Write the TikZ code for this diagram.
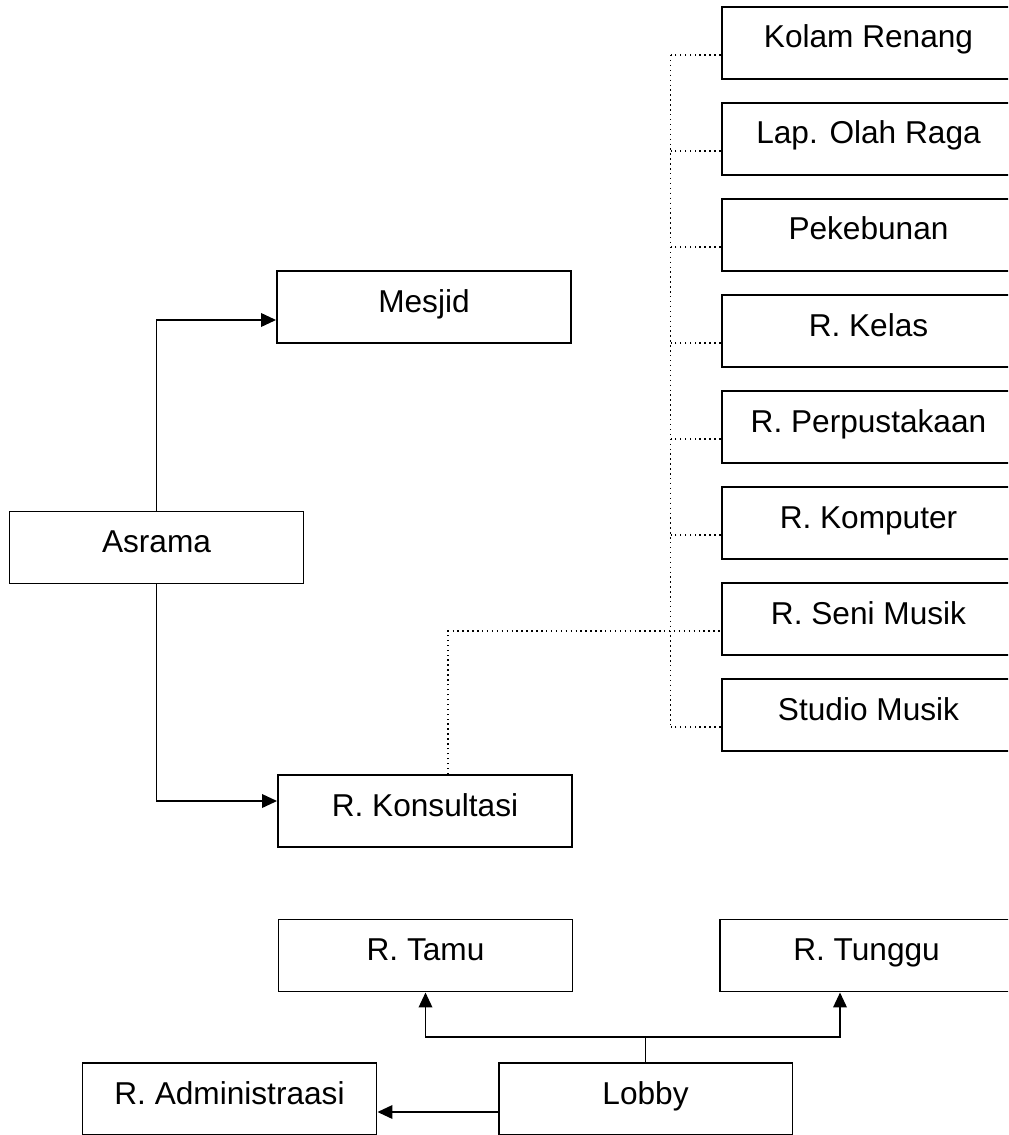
\documentclass[tikz,border=0pt]{standalone}
\usepackage{fontspec}
\setmainfont{Liberation Sans}
\usetikzlibrary{arrows.meta}

\tikzset{
    room/.style={draw, line width=1.1pt, minimum width=5.88cm, minimum height=1.44cm,
        text height=0.5cm, text depth=0.3cm, inner sep=0pt,
        font=\fontsize{18}{20}\selectfont},
    arr/.style={line width=1.1pt, -{Triangle[length=0.3cm,width=0.27cm]}},
    link/.style={line width=0.8pt},
    dotline/.style={dotted, line width=0.8pt}
}

\begin{document}
\begin{tikzpicture}[x=0.02cm, y=-0.02cm]
    \useasboundingbox (0,0) rectangle (1008,1135);
    \clip (0,0) rectangle (1008,1135);

    % Rooms, left side
    \node[room] (mesjid) at (424,307) {Mesjid};
    \node[room] (asrama) at (156.5,547.5) {Asrama};
    \node[room] (konsul) at (425,811) {R. Konsultasi};

    % Rooms, right column
    \node[room] (kolam) at (868.5,43) {Kolam Renang};
    \node[room] (lapor) at (868.5,139) {Lap. Olah Raga};
    \node[room] (kebun) at (868.5,235) {Pekebunan};
    \node[room] (kelas) at (868.5,331) {R. Kelas};
    \node[room] (pustaka) at (868.5,427) {R. Perpustakaan};
    \node[room] (komp) at (868.5,523) {R. Komputer};
    \node[room] (seni) at (868.5,619) {R. Seni Musik};
    \node[room] (studio) at (868.5,715) {Studio Musik};

    % Rooms, bottom
    \node[room] (tamu) at (425.5,955.5) {R. Tamu};
    \node[room] (tunggu) at (866.5,955.5) {R. Tunggu};
    \node[room] (admin) at (229.5,1099) {R. Administraasi};
    \node[room] (lobby) at (645.5,1099) {Lobby};

    % Asrama links
    \draw[arr] (asrama.north) |- ([yshift=-0.26cm]mesjid.west);
    \draw[arr] (asrama.south) |- ([yshift=0.2cm]konsul.west);

    % Dotted bus to right column
    \draw[dotline] ([shift={(-1cm,-0.24cm)}]kolam.west) -- ([shift={(-1cm,-0.24cm)}]studio.west);
    \draw[dotline] ([yshift=-0.24cm]kolam.west) -- +(-1cm,0);
    \draw[dotline] ([yshift=-0.24cm]lapor.west) -- +(-1cm,0);
    \draw[dotline] ([yshift=-0.24cm]kebun.west) -- +(-1cm,0);
    \draw[dotline] ([yshift=-0.24cm]kelas.west) -- +(-1cm,0);
    \draw[dotline] ([yshift=-0.24cm]pustaka.west) -- +(-1cm,0);
    \draw[dotline] ([yshift=-0.24cm]komp.west) -- +(-1cm,0);
    \draw[dotline] ([yshift=-0.24cm]studio.west) -- +(-1cm,0);
    \draw[dotline] ([xshift=0.46cm]konsul.north) |- ([yshift=-0.24cm]seni.west);

    % Lobby links
    \coordinate (lj) at ([yshift=0.5cm]lobby.north);
    \draw[link] (lobby.north) -- (lj);
    \draw[arr] (lj) -| (tamu.south);
    \draw[arr] (lj) -| ([xshift=-0.53cm]tunggu.south);
    \draw[arr] ([yshift=-0.26cm]lobby.west) -- ([yshift=-0.26cm]admin.east);
\end{tikzpicture}
\end{document}
